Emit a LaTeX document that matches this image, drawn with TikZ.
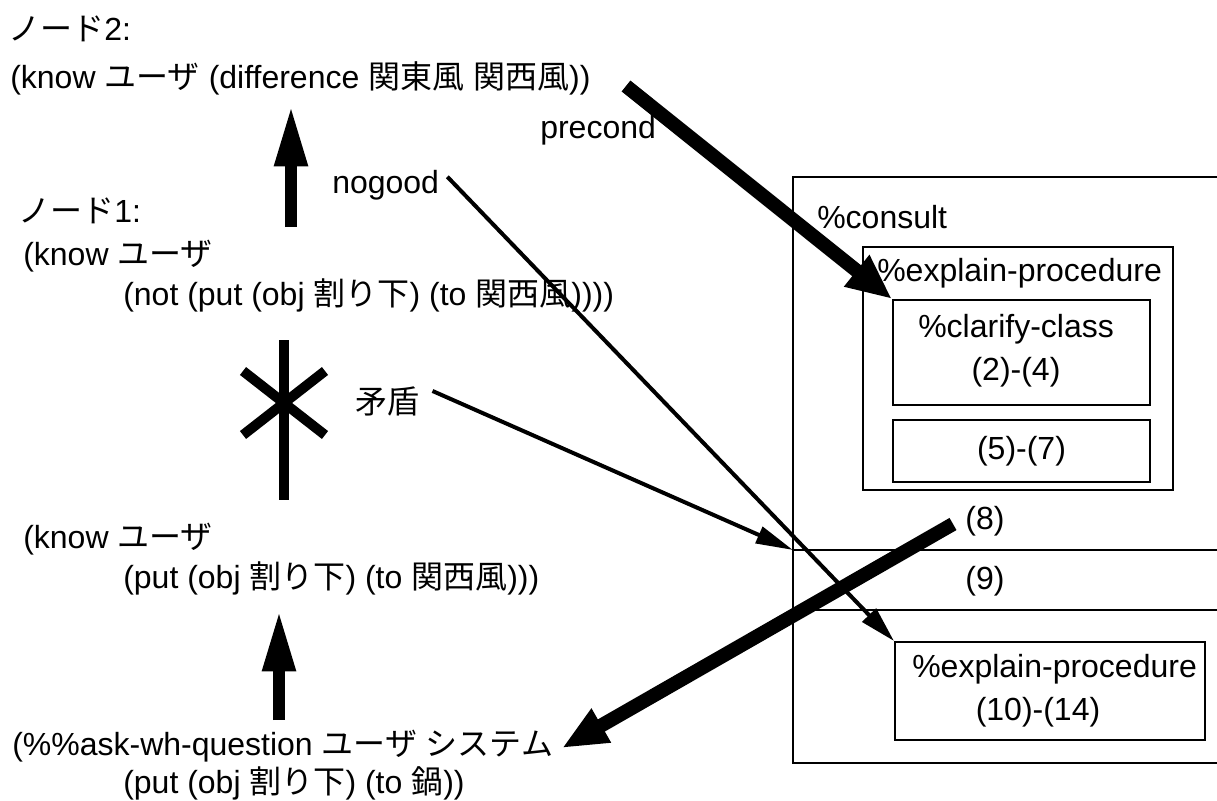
\documentclass[tikz,border=0pt]{standalone}
\usepackage{fontspec}
\setmainfont{Liberation Sans}
\newfontfamily\jp{Noto Sans CJK JP}
\usetikzlibrary{arrows.meta,fit,calc}
\newcommand\J[1]{{\jp #1}}
\begin{document}
\begin{tikzpicture}[x=0.75pt,y=-0.75pt,
  txt/.style={anchor=base west,inner sep=0pt,font=\fontsize{24}{28}\selectfont},
  ctxt/.style={anchor=center,inner sep=0pt,font=\fontsize{24}{28}\selectfont},
  box/.style={draw,line width=1.5pt,inner sep=0pt},
  frame/.style={line width=1.5pt},
  vup/.style={line width=9pt,-{Triangle[length=46pt,width=23pt]}},
  fat/.style={line width=10.5pt,-{Triangle[length=34pt,width=28pt]}},
  thin/.style={line width=3pt,-{Triangle[length=27pt,width=14pt]}},
  cross/.style={line width=7.5pt}]
\useasboundingbox (0,0) rectangle (1217,800);

% left column texts
\node[txt] (n2t) at (8,40) {\J{ノード}2:};
\node[txt] (n2) at (10,88) {(know \J{ユーザ} (difference \J{関東風} \J{関西風}))};
\node[txt] (pc) at (540,138) {precond};
\node[txt] (ng) at (332,193) {nogood};
\node[txt] (n1t) at (18,222) {\J{ノード}1:};
\node[txt] (n1a) at (23,265) {(know \J{ユーザ}};
\node[txt] (n1b) at (123,305) {(not (put (obj \J{割り下}) (to \J{関西風}))))};
\node[txt] (mj) at (355,413) {\J{矛盾}};
\node[txt] (k1) at (23,548) {(know \J{ユーザ}};
\node[txt] (k2) at (123,588) {(put (obj \J{割り下}) (to \J{関西風})))};
\node[txt] (q1) at (12,755) {(\%\%ask-wh-question \J{ユーザ} \J{システム}};
\node[txt] (q2) at (123,793) {(put (obj \J{割り下}) (to \J{鍋}))};

% right structure
\draw[frame] (1217,177) -- (793,177) -- (793,763) -- (1217,763);
\coordinate (h1) at (793,550);
\coordinate (h2) at (793,610);
\draw[frame] (h1) -- (1217,550);
\draw[frame] (h2) -- (1217,610);
\node[txt] (cons) at (817,228) {\%consult};
\node[box,fit={(863,247) (1173,490)}] (ep1) {};
\node[txt] (ep1t) at (877,281) {\%explain-procedure};
\node[box,fit={(893,300) (1150,405)}] (cc) {};
\node[txt] (cct) at (918,337) {\%clarify-class};
\node[ctxt] (cc24) at (1016,372) {(2)-(4)};
\node[box,fit={(893,420) (1150,482)}] (b57) {};
\node[ctxt] at (b57.center) {(5)-(7)};
\node[ctxt] (s8) at (985,521) {(8)};
\node[ctxt] (s9) at (985,581) {(9)};
\node[box,fit={(895,642) (1205,740)}] (ep2) {};
\node[txt] (ep2t) at (912,677) {\%explain-procedure};
\node[ctxt] (ep2n) at (1038,712) {(10)-(14)};

% vertical arrows and the cross
\coordinate (ua0) at (291,227);
\coordinate (ua1) at (291,105);
\draw[vup] (ua0) -- (ua1);
\coordinate (la0) at (279,720);
\coordinate (la1) at (279,610);
\draw[vup] (la0) -- (la1);
\draw[cross] (284,340) -- (284,500);
\draw[cross] (243,371) -- (325,435);
\draw[cross] (243,435) -- (325,371);

% connectors
\coordinate (pcs) at (626,86);
\draw[fat] (pcs) -- (cc.north west);
\draw[thin] (ng.east) ++(8,-8) coordinate (ngs) -- (ep2.north west);
\draw[thin,-{Triangle[length=28pt,width=13pt]}] (mj.east) ++(13,-10) coordinate (mjs) -- (h1);
\coordinate (e8) at (953,524);
\coordinate (q1e) at (562,748);
\draw[fat,-{Triangle[length=34pt,width=27pt]}] (e8) -- (q1e);
\end{tikzpicture}
\end{document}
